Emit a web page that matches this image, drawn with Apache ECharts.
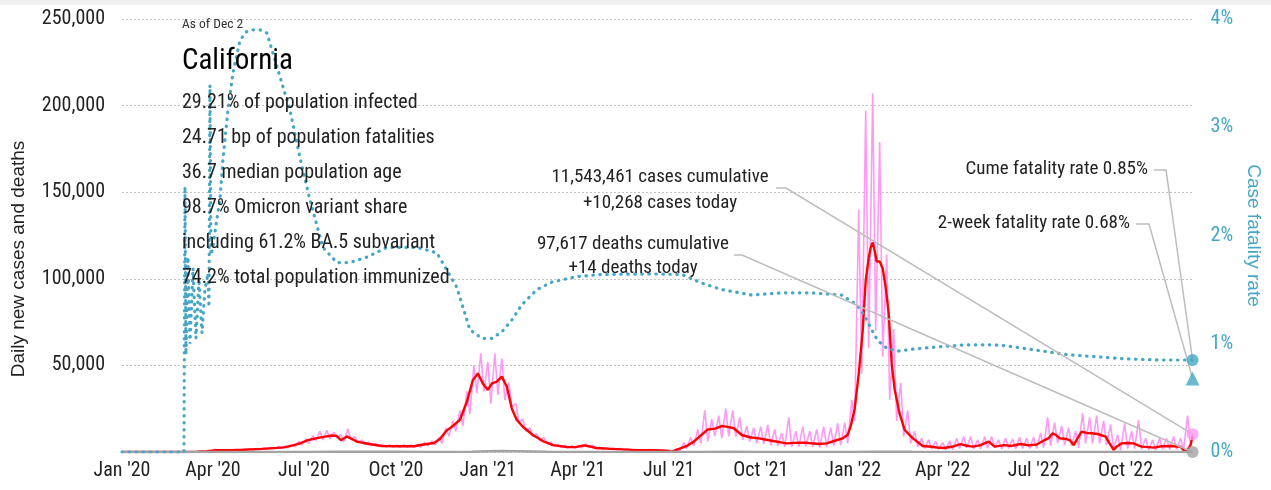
<!DOCTYPE html>
<html><head><meta charset="utf-8">
<script src="https://cdn.jsdelivr.net/npm/echarts@6/dist/echarts.min.js"></script>
<style>html,body{margin:0;padding:0;background:#fff}#c{width:1271px;height:490px}</style>
</head><body><div id="c"></div>
<script>
const NARROW = "'Roboto Condensed','Liberation Sans Narrow',sans-serif";
const REG = "'Liberation Sans',Arial,sans-serif";
const TEAL = '#45a7c5';
const PINK = '#ff99f3';

// x axis: days since 2020-01-01
const lastDay = 1071;
const xTickDays = [0,91,182,274,366,456,547,639,731,821,912,1004];
const xTickLabels = ["Jan '20","Apr '20","Jul '20","Oct '20","Jan '21","Apr '21","Jul '21","Oct '21","Jan '22","Apr '22","Jul '22","Oct '22"];

// 7-day average of new cases
const avgDays = [0,60,75,85,95,110,122,140,155,162,
 170,178,186,195,203,210,215,219,225,230,
 235,247,260,275,292,300,312,318,325,331,
 338,345,351,356,361,366,370,375,380,385,
 390,395,401,411,421,431,445,454,462,468,
 474,490,511,530,545,550,556,565,572,580,
 586,593,600,606,612,620,628,637,650,665,
 677,685,697,705,713,721,726,729,733,737,
 741,744,747,749,751,753,755,758,761,764,
 767,770,773,778,783,791,801,810,815,822,
 830,839,845,851,858,867,873,883,890,899,
 907,915,923,927,931,935,938,945,948,952,
 956,960,965,970,976,984,988,992,996,1000,
 1006,1012,1016,1020,1027,1032,1040,1049,1055,1059,
 1062,1065,1069,1071];
const avgCases = [0,0,150,500,1000,1100,1300,1800,2400,2700,
 3700,5000,6900,8000,8900,9500,9200,6800,9000,7500,
 6000,4600,3500,3300,3300,4200,5200,7500,12500,15000,
 18500,29000,41500,45400,39600,35800,39600,40600,43500,37700,
 25000,18500,14600,9800,6300,4000,2900,2800,3800,3200,
 2300,1800,1200,1000,800,100,1500,3500,6000,10000,
 13000,13500,15000,14500,13700,9800,8500,7900,6500,5000,
 5400,5300,4600,5000,6500,7900,10000,15000,25000,45000,
 70000,99000,112000,118000,121000,116000,110000,110000,106000,95000,
 80000,51000,36000,22000,12700,8000,3500,3000,2600,2300,
 3000,4600,3600,3100,3800,6000,3100,4000,3500,4600,
 3800,4300,6900,8000,10800,9500,7900,7500,6900,4000,
 8000,11700,11000,10800,10400,8900,5000,1200,3500,5000,
 5200,5000,4000,3100,2800,2500,3300,3500,3200,3100,
 1000,200,4000,8900];

// daily new cases: weekly high and low readings (week i starts on day 7*i)
const dailyHigh = [0,0,0,0,0,0,0,0,0,20,
 120,300,800,1600,1300,1400,1500,1700,1900,2000,
 2300,2600,3000,3400,4400,6000,7500,9500,12000,12500,
 11500,10000,13500,9000,7000,5800,5000,4500,4200,4000,
 4200,4100,4500,5500,6300,8500,14000,18000,24000,35000,
 50000,57000,52000,57000,54000,40000,28000,19000,14000,10500,
 8500,5800,4500,3800,3700,3800,4800,3700,2800,2500,
 2400,2100,1800,1600,1500,1400,1300,1300,1000,2000,
 5500,8500,13000,24000,19000,21000,25000,24000,20000,15000,
 14000,14600,15600,13000,11000,20000,12000,14600,12000,13000,
 14600,14000,16600,17000,30000,140000,197000,207000,179000,114000,
 71000,40000,24000,12000,8000,7000,6000,5500,6500,8000,
 9000,8900,7000,8900,9000,7000,8000,7500,8500,8000,
 8500,11000,20000,17000,15000,14000,12000,22400,20000,21000,
 18000,16000,10000,16600,12000,18500,8000,7000,8000,8000,
 9000,8000,21000];
const dailyLow = [0,0,0,0,0,0,0,0,0,10,
 60,200,400,800,900,900,1000,1100,1200,1300,
 1500,1800,2000,2300,3000,4000,5000,6500,7000,7500,
 8000,6000,7000,5500,4500,3800,3200,2800,2800,2700,
 2600,2600,2700,3500,4000,5000,9000,12000,15000,22000,
 34000,35000,28000,33000,30000,26000,17000,12000,9000,6500,
 5000,3400,2800,2400,2300,2300,3000,2300,1700,1500,
 1400,1200,1000,900,800,700,600,500,200,300,
 2000,3500,5000,6000,9000,8000,9000,9000,7000,6000,
 5000,4500,4000,3500,3000,3000,3000,3200,3000,2500,
 2800,3500,4000,5000,18000,45000,60000,70000,55000,30000,
 18000,9000,5000,3000,2000,1800,1500,1200,1300,2000,
 2500,1800,1800,2200,2500,1800,2000,1800,2000,2000,
 2000,2500,3500,5000,4000,3500,2500,5000,5000,5000,
 4000,1500,1000,2000,2000,1500,1200,1200,1500,1500,
 1500,1200,4000];
const casesToday = 10268;

// daily deaths (7-day average)
const deathDays = [0,60,91,121,152,182,213,244,274,305,335,350,366,380,397,425,456,486,517,547,578,609,639,670,700,731,750,762,790,821,851,882,912,943,974,1004,1035,1071];
const deathValues = [0,0,60,70,65,60,120,130,90,55,60,200,450,550,400,150,40,30,20,15,60,100,70,40,40,60,120,150,80,30,15,20,35,40,30,25,20,14];
const deathsToday = 14;

// cumulative case fatality rate (%)
const cfrDays = [0,62,63,64,66,68,71,74,77,80,
 83,86,87,88,89,91,94,98,101,106,
 111,118,124,131,138,145,155,168,178,188,
 201,215,228,245,265,295,315,335,348,360,
 370,380,390,400,415,430,455,480,530,560,
 580,600,630,660,690,720,735,740,745,750,
 756,765,775,791,815,845,870,885,915,945,
 975,1005,1036,1071];
const cfrValues = [0,0,2.45,0.9,1.8,1.0,1.7,1.05,1.6,1.1,
 1.5,1.65,1.34,3.39,1.82,1.89,2.1,2.33,2.7,3.16,
 3.5,3.8,3.88,3.9,3.9,3.87,3.56,3.16,2.72,2.33,
 1.89,1.75,1.75,1.8,1.89,1.89,1.84,1.52,1.13,1.05,
 1.05,1.11,1.22,1.36,1.5,1.57,1.62,1.64,1.645,1.64,
 1.56,1.5,1.45,1.47,1.47,1.45,1.36,1.3,1.22,1.13,
 1.03,0.96,0.93,0.95,0.97,0.99,0.99,0.98,0.94,0.90,
 0.88,0.86,0.85,0.85];
const cumeCfr = 0.85;
const twoWeekCfr = 0.68;

const statLines = ["29.21% of population infected","24.71 bp of population fatalities","36.7 median population age","98.7% Omicron variant share","including 61.2% BA.5 subvariant","74.2% total population immunized"];

const zip = (a,b) => a.map((v,i)=>[v,b[i]]);
const dailyData = [];
dailyHigh.forEach((h,i)=>{ dailyData.push([7*i+2,h]); dailyData.push([7*i+5,dailyLow[i]]); });
dailyData.push([lastDay, casesToday]);

function txt(id,x,y,text,size,align,color,fam,rot){
  const o = {type:'text', id, x, y, z:100, silent:true,
    style:{text, font: size+'px '+fam, fill:color, textAlign:align, textVerticalAlign:'middle', align:align, verticalAlign:'middle'}};
  if (rot) o.rotation = rot;
  return o;
}

const graphics = [
  {type:'rect', id:'band', shape:{x:0,y:0,width:1271,height:5}, style:{fill:'#f0f0f0'}, z:0, silent:true},
  txt('yname',19,259,'Daily new cases and deaths',19,'center','#222',REG,Math.PI/2),
  txt('asof',182,25,'As of Dec 2',13.5,'left','#333',NARROW),
  txt('state',182,62,'California',29,'left','#000',NARROW)
];
statLines.forEach((s,i)=>graphics.push(txt('st'+i,182,103+35*i,s,20,'left','#222',NARROW)));
graphics.push(txt('a1',660,177,'11,543,461 cases cumulative',19,'center','#222',NARROW));
graphics.push(txt('a2',660,203,'+10,268 cases today',19,'center','#222',NARROW));
graphics.push(txt('a3',633,244,'97,617 deaths cumulative',19,'center','#222',NARROW));
graphics.push(txt('a4',633,268,'+14 deaths today',19,'center','#222',NARROW));
graphics.push(txt('a5',1148,169,'Cume fatality rate 0.85%',19,'right','#222',NARROW));
graphics.push(txt('a6',1130,223,'2-week fatality rate 0.68%',19,'right','#222',NARROW));

const chart = echarts.init(document.getElementById('c'));
chart.setOption({
  animation:false,
  backgroundColor:'#fff',
  grid:{left:122,right:77,top:19,bottom:38},
  xAxis:{type:'value',min:0,max:lastDay,
    splitLine:{show:false},axisLine:{show:false},axisTick:{show:false},
    axisLabel:{customValues:xTickDays, showMinLabel:true, showMaxLabel:true,
      formatter:v=>{const k=xTickDays.indexOf(Math.round(v));return k>=0?xTickLabels[k]:'';},
      fontFamily:NARROW,fontSize:20,color:'#222',margin:9}},
  yAxis:[
    {type:'value',min:0,max:250000,interval:50000,
     splitLine:{lineStyle:{color:'#c4c4c4',type:[2,2],width:1}},
     axisLine:{show:false},axisTick:{show:false},
     axisLabel:{formatter:v=>v===0?'':v.toLocaleString('en-US'),fontFamily:NARROW,fontSize:20,color:'#222',margin:17}},
    {type:'value',min:0,max:4,interval:1,position:'right',
     splitLine:{show:false},axisLine:{show:false},axisTick:{show:false},
     axisLabel:{formatter:'{value}%',fontFamily:NARROW,fontSize:20,color:TEAL,margin:18},
     name:'Case fatality rate',nameLocation:'middle',nameGap:46,nameRotate:-90,
     nameTextStyle:{fontFamily:REG,fontSize:19,color:TEAL}}
  ],
  graphic:graphics,
  series:[
    {type:'line',name:'daily',data:dailyData,showSymbol:false,symbol:'none',lineStyle:{color:PINK,width:1.6},z:2},
    {type:'line',name:'avg',data:zip(avgDays,avgCases),showSymbol:false,symbol:'none',lineStyle:{color:'#ff0000',width:2.4},z:3},
    {type:'line',name:'deaths',data:zip(deathDays,deathValues),showSymbol:false,symbol:'none',lineStyle:{color:'#a3a3a3',width:2.5},z:3},
    {type:'line',name:'cfr',yAxisIndex:1,data:zip(cfrDays,cfrValues),showSymbol:false,symbol:'none',
     lineStyle:{color:TEAL,width:3.2,type:[0.5,6.5],cap:'round'},z:4},
    {type:'scatter',data:[[lastDay,casesToday]],symbol:'circle',symbolSize:12,itemStyle:{color:PINK},clip:false,z:120},
    {type:'scatter',data:[[lastDay,deathsToday]],symbol:'circle',symbolSize:12,itemStyle:{color:'#a3a3a3'},clip:false,z:120},
    {type:'scatter',yAxisIndex:1,data:[[lastDay,cumeCfr]],symbol:'circle',symbolSize:12,itemStyle:{color:TEAL},clip:false,z:120},
    {type:'scatter',yAxisIndex:1,data:[[lastDay,twoWeekCfr]],symbol:'triangle',symbolSize:14,itemStyle:{color:TEAL},clip:false,z:120}
  ]
});

const pCase = chart.convertToPixel({seriesIndex:4},[lastDay,casesToday]);
const pDeath = chart.convertToPixel({seriesIndex:5},[lastDay,deathsToday]);
const pCume = chart.convertToPixel({seriesIndex:6},[lastDay,cumeCfr]);
const pTwo = chart.convertToPixel({seriesIndex:7},[lastDay,twoWeekCfr]);
const lead = (id,pts)=>({type:'polyline',id,z:100,silent:true,shape:{points:pts},style:{stroke:'#bdbdbd',lineWidth:1.5,fill:null}});
chart.setOption({graphic:[
  lead('l1',[[776,188],[786,188],pCase]),
  lead('l2',[[734,255],[742,255],pDeath]),
  lead('l3',[[1154,170],[1166,170],pCume]),
  lead('l4',[[1136,224],[1149,224],pTwo])
]});
</script>
</body></html>
